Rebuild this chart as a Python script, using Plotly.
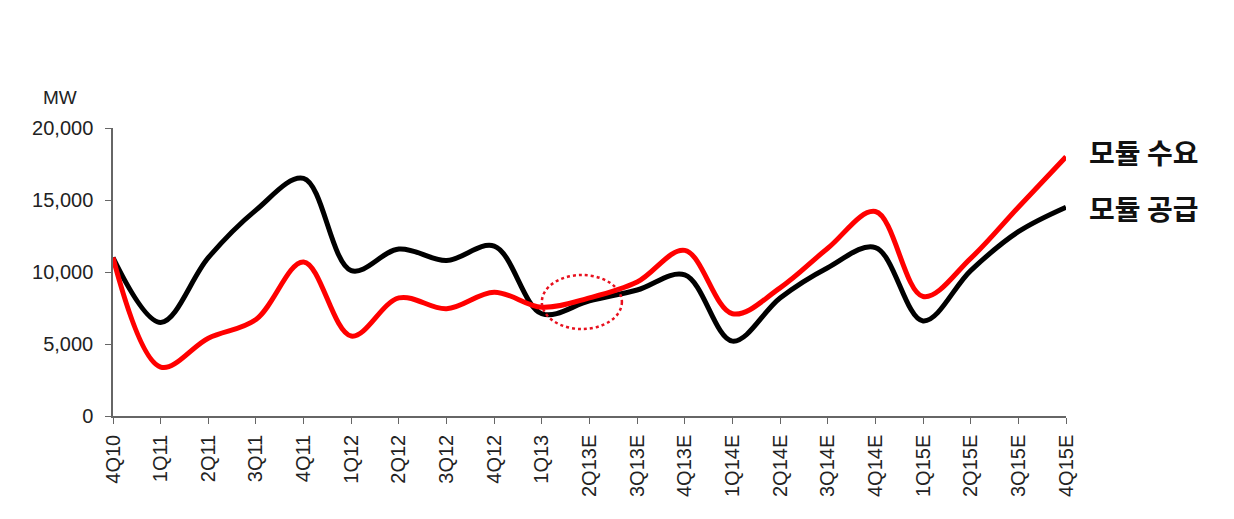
import plotly.graph_objects as go

categories = ["4Q10", "1Q11", "2Q11", "3Q11", "4Q11", "1Q12", "2Q12", "3Q12", "4Q12",
              "1Q13", "2Q13E", "3Q13E", "4Q13E", "1Q14E", "2Q14E", "3Q14E", "4Q14E",
              "1Q15E", "2Q15E", "3Q15E", "4Q15E"]
supply = [11000, 6500, 11000, 14300, 16500, 10100, 11600, 10800, 11800,
          7100, 8000, 8750, 9800, 5200, 8200, 10300, 11700,
          6600, 10100, 12800, 14500]
demand = [11000, 3400, 5400, 6700, 10700, 5550, 8200, 7450, 8600,
          7550, 8200, 9300, 11500, 7100, 8900, 11650, 14200,
          8300, 10950, 14500, 18000]
y_ticks = [0, 5000, 10000, 15000, 20000]
y_tick_labels = ["0", "5,000", "10,000", "15,000", "20,000"]
label_demand = "모듈 수요"
label_supply = "모듈 공급"
unit_label = "MW"

xi = list(range(len(categories)))

fig = go.Figure()
fig.add_trace(go.Scatter(x=xi, y=supply, mode="lines", name=label_supply,
                         line=dict(color="#000000", width=5, shape="spline", smoothing=1.0)))
fig.add_trace(go.Scatter(x=xi, y=demand, mode="lines", name=label_demand,
                         line=dict(color="#FF0000", width=5, shape="spline", smoothing=1.0)))

# dotted highlight ellipse around 2Q13E
fig.add_shape(type="circle", xref="x", yref="y", x0=9.0, x1=10.68, y0=6040, y1=9790,
              line=dict(color="#E8101E", width=2.5, dash="dot"))

L, R, T, B = 113, 168, 128, 103
W, H = 1234, 519
pw = W - L - R

def px_x(p):
    return (p - L) / pw

def px_y(p):
    return (H - B - p) / (H - T - B)

fig.add_annotation(text=unit_label, xref="paper", yref="paper", x=px_x(60), y=px_y(98),
                   xanchor="center", yanchor="middle", showarrow=False,
                   font=dict(family="Liberation Sans, Arial", size=19, color="#222222"))
fig.add_annotation(text="<b>" + label_demand + "</b>", xref="paper", yref="paper",
                   x=px_x(1087), y=px_y(152), xanchor="left", yanchor="middle", showarrow=False,
                   font=dict(family="Noto Sans CJK KR", size=28, color="#111111"))
fig.add_annotation(text="<b>" + label_supply + "</b>", xref="paper", yref="paper",
                   x=px_x(1087), y=px_y(208), xanchor="left", yanchor="middle", showarrow=False,
                   font=dict(family="Noto Sans CJK KR", size=28, color="#111111"))

fig.update_layout(
    width=W, height=H,
    margin=dict(l=L, r=R, t=T, b=B),
    paper_bgcolor="white", plot_bgcolor="white",
    showlegend=False,
    font=dict(family="Liberation Sans, Arial", size=16, color="#222222"),
)
fig.update_xaxes(
    range=[0, len(categories) - 1], tickmode="array", tickvals=xi, ticktext=categories,
    tickangle=-90, showgrid=False, zeroline=False, showline=True, linecolor="#666666",
    linewidth=1.5, ticks="outside", ticklen=6, tickcolor="#666666", ticklabelstandoff=3,
    tickfont=dict(family="Liberation Sans, Arial", size=20, color="#222222"),
)
fig.update_yaxes(
    range=[0, 20000], tickmode="array", tickvals=y_ticks, ticktext=y_tick_labels,
    showgrid=False, zeroline=False, showline=True, linecolor="#666666", linewidth=1.5,
    ticks="outside", ticklen=6, tickcolor="#666666", ticklabelstandoff=8,
    tickfont=dict(family="Liberation Sans, Arial", size=20, color="#222222"),
)

fig.write_html("out.html")
